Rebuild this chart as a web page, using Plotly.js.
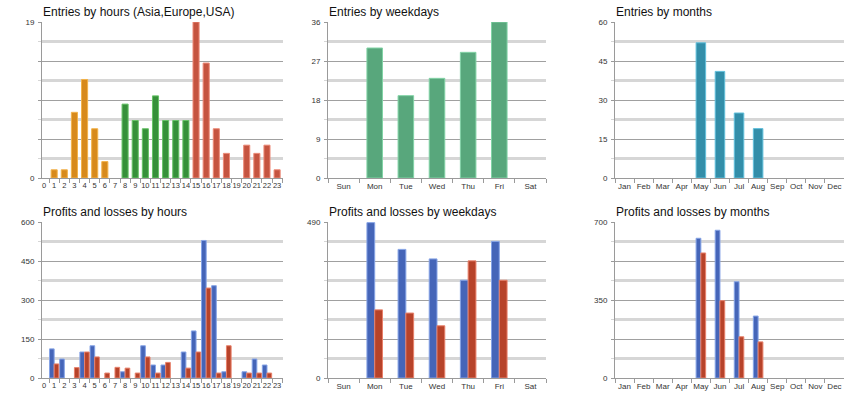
<!DOCTYPE html>
<html>
<head>
<meta charset="utf-8">
<script src="https://cdn.plot.ly/plotly-3.0.1.min.js"></script>
<style>
  html, body { margin: 0; padding: 0; background: #fff; }
  #chart { width: 860px; height: 400px; }
</style>
</head>
<body>
<div id="chart"></div>
<script>
// categories
const hours = ["0", "1", "2", "3", "4", "5", "6", "7", "8", "9", "10", "11",
  "12", "13", "14", "15", "16", "17", "18", "19", "20", "21", "22", "23"];
const hourSessions = ["Asia", "Asia", "Asia", "Asia", "Asia", "Asia", "Asia", "Asia",
  "Europe", "Europe", "Europe", "Europe", "Europe", "Europe", "Europe",
  "USA", "USA", "USA", "USA", "USA", "USA", "USA", "USA", "USA"];
const weekdays = ["Sun", "Mon", "Tue", "Wed", "Thu", "Fri", "Sat"];
const months = ["Jan", "Feb", "Mar", "Apr", "May", "Jun", "Jul", "Aug", "Sep", "Oct", "Nov", "Dec"];

// entries
const entriesByHour = [0, 1, 1, 8, 12, 6, 2, 0, 9, 7, 6, 10, 7, 7, 7, 19, 14, 6, 3, 0, 4, 3, 4, 1];
const entriesByWeekday = [0, 30, 19, 23, 29, 36, 0];
const entriesByMonth = [0, 0, 0, 0, 52, 41, 25, 19, 0, 0, 0, 0];

// profits and losses
const profitsByHour = [0, 112, 73, 0, 100, 124, 0, 0, 24, 0, 124, 50, 50, 0, 100, 181, 529, 355, 24, 0, 24, 73, 50, 0];
const lossesByHour = [0, 54, 0, 40, 100, 81, 19, 41, 38, 19, 81, 19, 60, 0, 38, 100, 346, 19, 124, 0, 19, 19, 19, 0];
const profitsByWeekday = [0, 488, 404, 374, 307, 429, 0];
const lossesByWeekday = [0, 214, 204, 164, 368, 307, 0];
const profitsByMonth = [0, 0, 0, 0, 627, 663, 432, 278, 0, 0, 0, 0];
const lossesByMonth = [0, 0, 0, 0, 561, 347, 185, 162, 0, 0, 0, 0];

// y axis scales and labels (5 major lines each)
const axisMax = [19, 36, 60, 600, 490, 700];
const axisLabels = [
  ["0", "", "", "", "19"],
  ["0", "9", "18", "27", "36"],
  ["0", "15", "30", "45", "60"],
  ["0", "150", "300", "450", "600"],
  ["0", "", "", "", "490"],
  ["0", "", "350", "", "700"],
];
const titles = [
  "Entries by hours (Asia,Europe,USA)",
  "Entries by weekdays",
  "Entries by months",
  "Profits and losses by hours",
  "Profits and losses by weekdays",
  "Profits and losses by months",
];

const sessionFill = { Asia: "#d78a1c", Europe: "#36903a", USA: "#c55440" };
const sessionLine = { Asia: "#f2b24a", Europe: "#66c266", USA: "#ec8a78" };
const profitFill = "#4565b8";
const profitLine = "#86a4e6";
const lossFill = "#b7432a";
const lossLine = "#e8806a";

const W = 860, H = 400;
const colDomains = [[42, 283], [328, 546], [615, 844]];
const rowDomains = [[22, 178], [222, 378]];
const xRanges = [[-0.2, 23.58], [-0.5, 6.5], [-0.5, 11.5]];

const tickFont = { family: "Liberation Sans, Arial, sans-serif", size: 8, color: "#333" };

// empty bars are left out so no outline is drawn on the baseline
const shown = (vals) => vals.map((v) => (v === 0 ? null : v));

const layout = {
  width: W,
  height: H,
  margin: { l: 0, r: 0, t: 0, b: 0 },
  paper_bgcolor: "#fff",
  plot_bgcolor: "#fff",
  showlegend: false,
  barmode: "overlay",
  font: { family: "Liberation Sans, Arial, sans-serif", color: "#000" },
  annotations: [],
};

for (let i = 0; i < 6; i++) {
  const col = i % 3;
  const row = Math.floor(i / 3);
  const n = i === 0 ? "" : String(i + 1);
  const max = axisMax[i];
  const major = [0, max / 4, max / 2, (3 * max) / 4, max];
  const minor = [max / 8, (3 * max) / 8, (5 * max) / 8, (7 * max) / 8];

  layout["xaxis" + n] = {
    domain: [colDomains[col][0] / W, colDomains[col][1] / W],
    anchor: "y" + n,
    type: "category",
    range: xRanges[col],
    showline: true,
    linecolor: "#9a9a9a",
    linewidth: 1,
    ticks: "outside",
    tickson: "boundaries",
    ticklen: 4,
    tickcolor: "#9a9a9a",
    tickangle: 0,
    showgrid: false,
    zeroline: false,
    tickfont: col === 0 ? { ...tickFont, size: 7.5 } : tickFont,
    fixedrange: true,
  };
  layout["yaxis" + n] = {
    domain: [1 - rowDomains[row][1] / H, 1 - rowDomains[row][0] / H],
    anchor: "x" + n,
    range: [0, max],
    tickmode: "array",
    tickvals: major,
    ticktext: axisLabels[i],
    showline: true,
    linecolor: "#9a9a9a",
    linewidth: 1,
    ticks: "outside",
    ticklen: 3,
    tickcolor: "#9a9a9a",
    showgrid: true,
    gridcolor: "#a0a0a0",
    gridwidth: 1,
    zeroline: false,
    tickfont: tickFont,
    ticklabelstandoff: 2,
    minor: {
      tickmode: "array",
      tickvals: minor,
      showgrid: true,
      gridcolor: "#d6d6d6",
      gridwidth: 2.5,
      ticks: "outside",
      ticklen: 3,
      tickcolor: "#d6d6d6",
    },
    fixedrange: true,
  };
  layout.annotations.push({
    text: titles[i],
    xref: "paper",
    yref: "paper",
    x: (colDomains[col][0] - 1) / W,
    y: 1 - (row * 200 + 11.5) / H,
    xanchor: "left",
    yanchor: "middle",
    showarrow: false,
    font: { family: "Liberation Sans, Arial, sans-serif", size: 12, color: "#111" },
  });
}

const entriesTraces = [
  {
    x: hours,
    y: shown(entriesByHour),
    xaxis: "x",
    yaxis: "y",
    width: 0.6,
    marker: {
      color: hourSessions.map((s) => sessionFill[s]),
      line: { color: hourSessions.map((s) => sessionLine[s]), width: 1 },
    },
  },
  {
    x: weekdays,
    y: shown(entriesByWeekday),
    xaxis: "x2",
    yaxis: "y2",
    width: 0.5,
    marker: { color: "#58a77c", line: { color: "#82d3a6", width: 1 } },
  },
  {
    x: months,
    y: shown(entriesByMonth),
    xaxis: "x3",
    yaxis: "y3",
    width: 0.5,
    marker: { color: "#338ea9", line: { color: "#62c0dc", width: 1 } },
  },
];

// profit (blue, left) and loss (red, right) pairs
const pairSets = [
  { x: hours, p: profitsByHour, l: lossesByHour, ax: "4", w: 0.46 },
  { x: weekdays, p: profitsByWeekday, l: lossesByWeekday, ax: "5", w: 0.25 },
  { x: months, p: profitsByMonth, l: lossesByMonth, ax: "6", w: 0.25 },
];
const pairTraces = [];
pairSets.forEach((s) => {
  pairTraces.push({
    x: s.x,
    y: shown(s.p),
    xaxis: "x" + s.ax,
    yaxis: "y" + s.ax,
    width: s.w,
    offset: -s.w,
    marker: { color: profitFill, line: { color: profitLine, width: 1 } },
  });
  pairTraces.push({
    x: s.x,
    y: shown(s.l),
    xaxis: "x" + s.ax,
    yaxis: "y" + s.ax,
    width: s.w,
    offset: 0,
    marker: { color: lossFill, line: { color: lossLine, width: 1 } },
  });
});

const traces = entriesTraces.concat(pairTraces).map((t) => ({
  ...t,
  type: "bar",
  hoverinfo: "x+y",
}));

Plotly.newPlot("chart", traces, layout, { displayModeBar: false, staticPlot: true });
</script>
</body>
</html>
